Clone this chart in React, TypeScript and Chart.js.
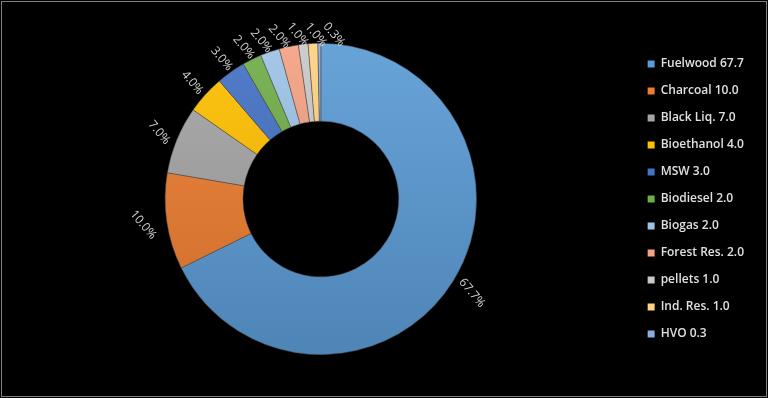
import React, { useEffect, useRef } from "react";
import { Chart, registerables } from "chart.js";

Chart.register(...registerables);

const categories = [
  "Fuelwood",
  "Charcoal",
  "Black Liq.",
  "Bioethanol",
  "MSW",
  "Biodiesel",
  "Biogas",
  "Forest Res.",
  "pellets",
  "Ind. Res.",
  "HVO",
];
const shares = [67.7, 10.0, 7.0, 4.0, 3.0, 2.0, 2.0, 2.0, 1.0, 1.0, 0.3];
const colors = [
  "#5B9BD5",
  "#ED7D31",
  "#A5A5A5",
  "#FFC000",
  "#4472C4",
  "#70AD47",
  "#9DC3E6",
  "#F4A283",
  "#C9C9C9",
  "#FFD27F",
  "#8FAADC",
];

function shade(hex: string, f: number): string {
  const n = parseInt(hex.slice(1), 16);
  let r = (n >> 16) & 255, g = (n >> 8) & 255, b = n & 255;
  if (f >= 0) {
    r = r + (255 - r) * f; g = g + (255 - g) * f; b = b + (255 - b) * f;
  } else {
    r = r * (1 + f); g = g * (1 + f); b = b * (1 + f);
  }
  return `rgb(${Math.round(r)},${Math.round(g)},${Math.round(b)})`;
}

const LABEL_ROT = (50 * Math.PI) / 180;
const MIN_SEP = (6.3 * Math.PI) / 180;

const outLabels = {
  id: "outLabels",
  afterDatasetsDraw(chart: any) {
    const ctx = chart.ctx as CanvasRenderingContext2D;
    const meta = chart.getDatasetMeta(0);
    ctx.save();
    ctx.font = "12px 'Open Sans'";
    ctx.fillStyle = "#D4D4D4";
    ctx.textAlign = "center";
    ctx.textBaseline = "middle";
    const items = meta.data.map((arc: any, i: number) => {
      const p = arc.getProps(["x", "y", "startAngle", "endAngle", "outerRadius"], true);
      return { p, a: (p.startAngle + p.endAngle) / 2, text: shares[i].toFixed(1) + "%" };
    });
    // simple overlap relaxation along the angle
    for (let it = 0; it < 200; it++) {
      let moved = false;
      for (let i = 1; i < items.length; i++) {
        const d = items[i].a - items[i - 1].a;
        if (d < MIN_SEP - 1e-6) {
          const push = (MIN_SEP - d) / 2;
          items[i].a += push;
          items[i - 1].a -= push;
          moved = true;
        }
      }
      if (!moved) break;
    }
    items.forEach((o: any) => {
      const { p, a, text } = o;
      const w = ctx.measureText(text).width;
      const s = Math.sin(a);
      const ext = 1.25 * (w / 2) * Math.abs(Math.cos(a)) + 5 * s * s;
      const r = p.outerRadius + 3 + ext;
      const lx = p.x + Math.cos(a) * r;
      const ly = p.y + Math.sin(a) * r;
      ctx.save();
      ctx.translate(lx, ly);
      ctx.rotate(LABEL_ROT);
      ctx.fillText(text, 0, 0);
      ctx.restore();
    });
    ctx.restore();
  },
};

export default function App() {
  const ref = useRef<HTMLCanvasElement | null>(null);
  useEffect(() => {
    if (!ref.current) return;
    const chart = new Chart(ref.current, {
      type: "doughnut",
      data: {
        labels: categories.map((c, i) => `${c} ${shares[i].toFixed(1)}`),
        datasets: [
          {
            data: shares,
            backgroundColor: (ctx: any) => {
              const base = colors[ctx.dataIndex] || "#888";
              const area = ctx.chart.chartArea;
              if (!area) return base;
              const g = ctx.chart.ctx.createLinearGradient(0, area.top, 0, area.bottom);
              g.addColorStop(0, shade(base, 0.08));
              g.addColorStop(1, shade(base, -0.14));
              return g;
            },
            borderColor: "rgba(70,70,70,0.8)",
            borderWidth: 0.6,
          },
        ],
      },
      options: {
        responsive: false,
        animation: false,
        cutout: "50%",
        layout: { padding: { left: 9, right: 14, top: 43, bottom: 43 } },
        plugins: {
          tooltip: { enabled: false },
          legend: {
            position: "right",
            align: "center",
            labels: {
              boxWidth: 7,
              boxHeight: 7,
              padding: 15,
              color: "#E0E0E0",
              font: { family: "'Open Sans'", size: 12, weight: "600" },
              generateLabels: (chart: any) =>
                chart.data.labels.map((t: string, i: number) => ({
                  text: t,
                  fillStyle: colors[i],
                  strokeStyle: colors[i],
                  lineWidth: 0,
                  fontColor: "#E0E0E0",
                  hidden: false,
                  index: i,
                })),
            },
          },
        },
      },
      plugins: [outLabels],
    });
    return () => chart.destroy();
  }, []);
  return (
    <div
      style={{
        position: "fixed",
        left: 0,
        top: 0,
        width: 768,
        height: 398,
        background: "#000",
      }}
    >
      <canvas ref={ref} width={768} height={398} style={{ display: "block" }} />
      <div
        style={{
          position: "absolute",
          left: 1,
          top: 1,
          width: 764,
          height: 394,
          border: "1px solid #7f7f7f",
          pointerEvents: "none",
        }}
      />
    </div>
  );
}
